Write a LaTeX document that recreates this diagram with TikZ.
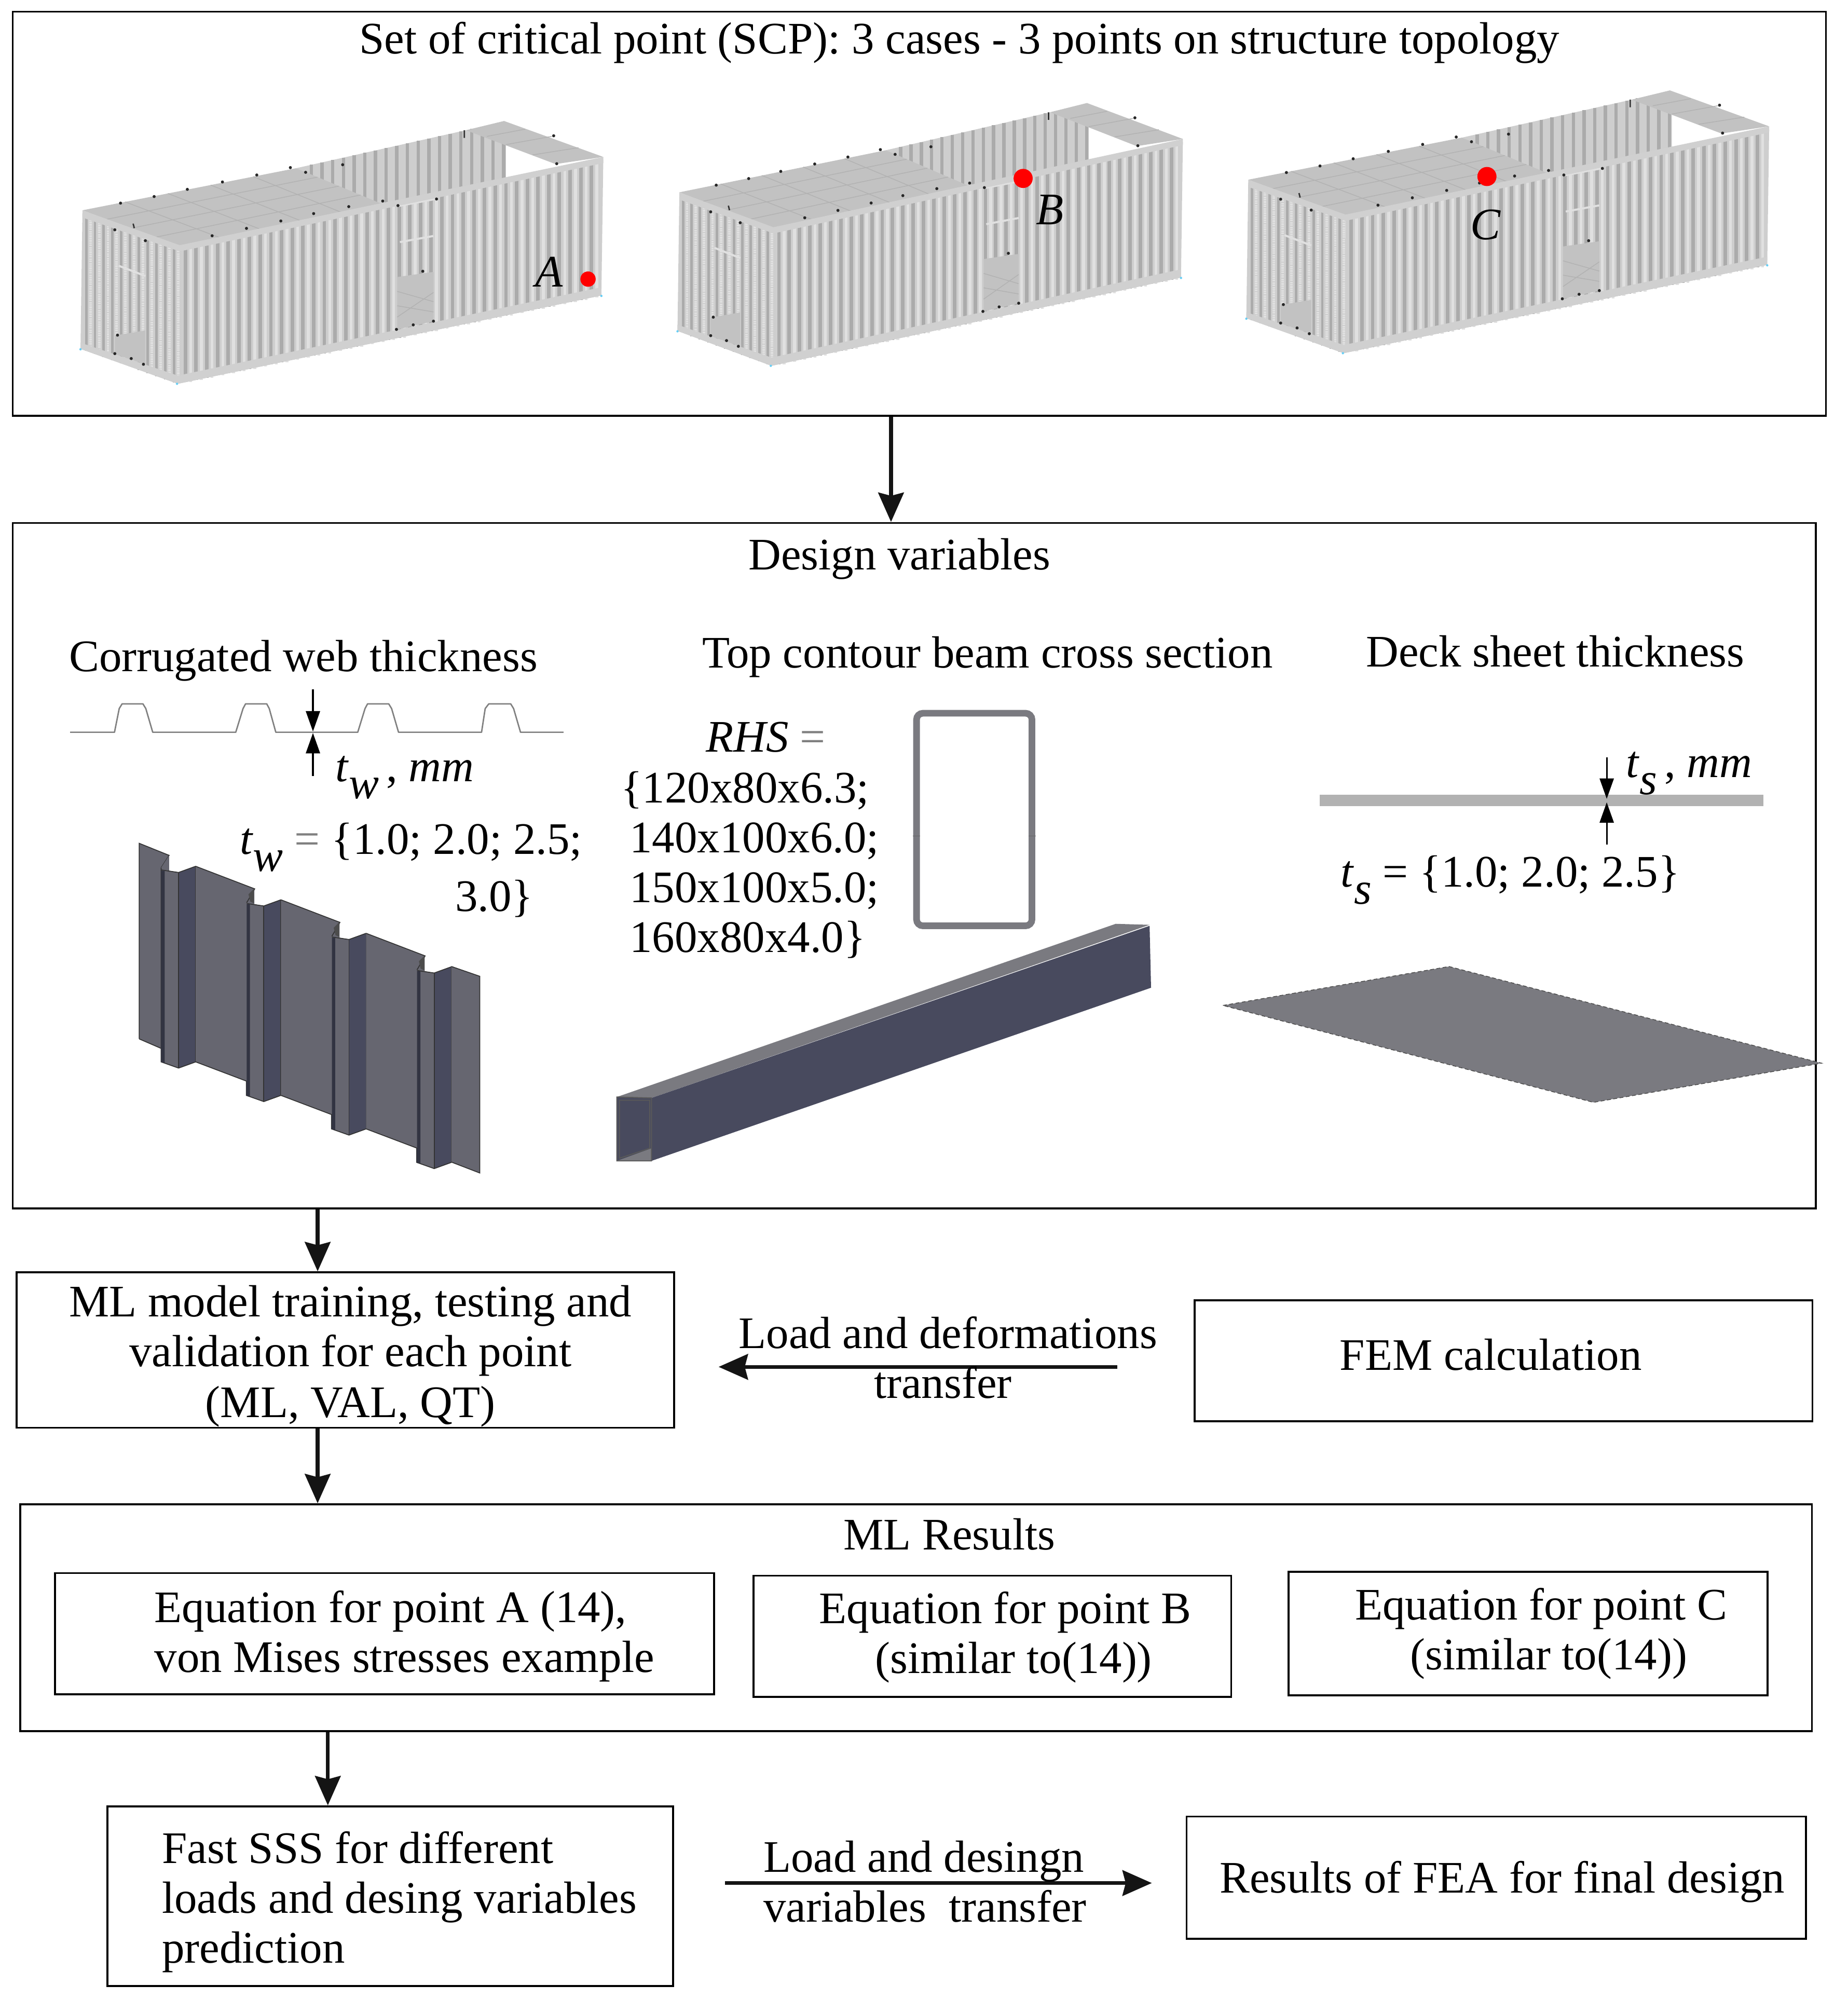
\documentclass[tikz,border=0pt]{standalone}
\usepackage{fontspec}
\setmainfont{Liberation Serif}
\usetikzlibrary{arrows.meta,calc}
\definecolor{ribdark}{HTML}{ABABAB}
\definecolor{ribbase}{HTML}{CECECE}
\definecolor{ribline}{HTML}{E0E0E0}
\definecolor{deckgrey}{HTML}{C2C2C2}
\definecolor{gridgrey}{HTML}{B2B2B2}
\definecolor{beamgrey}{HTML}{D0D0D0}
\definecolor{facegrey}{HTML}{666670}
\definecolor{recess}{HTML}{484A5E}
\definecolor{sheetgrey}{HTML}{7A7A80}
\tikzset{
  box/.style={draw=black,line width=1.5pt,inner sep=0pt,fill=none},
  txt/.style={anchor=base,inner sep=0pt,yshift=-1pt,font=\fontsize{35.4}{39}\selectfont},
  txtl/.style={txt,anchor=base west},
  arr/.style={line width=3pt,draw=black!92,-{Stealth[length=23pt,width=20pt,inset=2.5pt]}},
  dimarr/.style={line width=1.3pt,draw=black,-{Triangle[length=16pt,width=11pt]}},
  rivet/.style={fill=black!85},
  edge3d/.style={draw=black!80,line width=.7pt},
}
\newcommand{\subit}[2]{\textit{#1}\raisebox{-.38em}{\textit{#2}}}
\newcommand{\containerbox}[3]{%
\begin{scope}[shift={(#1,#2)},x=#3pt,y=-.1611pt]
  % back wall
  \fill[ribbase] (640,440)--(1085,255)--(1190,320)--(1190,495)--(865,625)--cycle;
  \foreach \rx in {680,708,...,1190}{
    \pgfmathsetmacro\ta{440-(\rx-640)*.416}
    \pgfmathsetmacro\tb{625-(\rx-865)*.4}
    \draw[ribdark,line width=2.6pt] (\rx,\ta)--(\rx,\tb);
  }
  % right deck
  \fill[deckgrey] (1085,255)--(1185,210)--(1445,385)--(1320,420)--cycle;
  \draw[gridgrey,line width=.6pt] (1140,285)--(1240,250) (1190,325)--(1310,285) (1260,375)--(1380,340);
  % long wall
  \fill[ribbase] (335,830)--(1445,400)--(1440,1060)--(330,1490)--cycle;
  \foreach \rx in {350,378,...,1430}{
    \pgfmathsetmacro\ta{830-(\rx-335)*.387}
    \pgfmathsetmacro\tb{1490-(\rx-330)*.387}
    \draw[ribdark,line width=2.8pt] (\rx,\ta)--(\rx,\tb);
    \draw[ribline,line width=2.2pt] (\rx+14,\ta)--(\rx+14,\tb);
  }
  % end wall
  \fill[ribbase] (80,660)--(335,830)--(330,1490)--(75,1320)--cycle;
  \foreach \rx in {90,113,...,325}{
    \pgfmathsetmacro\ta{660+(\rx-80)*.667}
    \pgfmathsetmacro\tb{1320+(\rx-75)*.667}
    \draw[ribdark,line width=2pt] (\rx,\ta)--(\rx,\tb);
    \draw[ribline,line width=2pt,dash pattern=on 1.3pt off .5pt] (\rx+11,\ta)--(\rx+11,\tb);
  }
  % door openings
  \fill[deckgrey] (905,970)--(1000,945)--(1000,1185)--(905,1225)--cycle;
  \draw[gridgrey,line width=.6pt] (905,1040)--(1000,1090) (905,1110)--(1000,1140) (905,1165)--(1000,1045);
  \fill[deckgrey] (165,1255)--(245,1230)--(245,1395)--(165,1345)--cycle;
  \draw[ribline,line width=1.6pt] (905,625)--(1005,590) (912,800)--(1000,770) (175,915)--(245,965);
  % bottom rail
  \fill[beamgrey] (330,1450)--(1440,1020)--(1440,1060)--(330,1490)--(75,1320)--(75,1290)--cycle;
  % left deck
  \coordinate (P) at (80,645); \coordinate (Q) at (640,440);
  \coordinate (R) at (865,614); \coordinate (S) at (335,820);
  \fill[deckgrey] (P)--(Q)--(R)--(S)--cycle;
  \foreach \t in {.2,.4,.6,.8}{\draw[gridgrey,line width=.6pt] ($(P)!\t!(Q)$)--($(S)!\t!(R)$);}
  \foreach \t in {.25,.5,.75}{\draw[gridgrey,line width=.6pt] ($(P)!\t!(S)$)--($(Q)!\t!(R)$);}
  % top beams
  \fill[beamgrey] (335,815)--(1445,385)--(1445,415)--(335,845)--(80,680)--(80,645)--cycle;
  \foreach \p in {(180,610),(268,578),(355,543),(447,507),(537,473),(625,437),(665,460),(762,423),(867,600),(778,627),(686,661),(600,697),(510,733),(420,769),(165,740),(245,793),(907,622),(1008,590),(1323,418),(1315,282),(972,942),(903,1225),(947,1203),(1000,1185),(172,1253),(165,1343),(208,1367),(240,1395)}{
    \fill[rivet] \p circle[radius=1.2pt];
  }
  \draw[black!80,line width=1.1pt] (213,710)--(216,732) (1081,255)--(1081,292);
  \fill[cyan!60] (75,1322) circle[radius=.9pt] (328,1490) circle[radius=.9pt] (1440,1062) circle[radius=.9pt];
\end{scope}}
\begin{document}
\begin{tikzpicture}[x=1pt,y=-1pt]
\useasboundingbox (0,0) rectangle (1450,1568.5);
\fill[white] (0,0) rectangle (1450,1568.5);

% ---------- containers
\containerbox{40.7}{61.1}{.2995}
\containerbox{510}{47}{.2895}
\containerbox{955.7}{37.1}{.2995}
\fill[red] (461.5,219) circle[radius=6pt];
\fill[red] (803,140) circle[radius=7.5pt];
\fill[red] (1167,138.5) circle[radius=7.5pt];
\node[txt,font=\fontsize{35.4}{39}\selectfont\itshape] (labA) at (431,224) {A};
\node[txt,font=\fontsize{35.4}{39}\selectfont\itshape] (labB) at (824,175) {B};
\node[txt,font=\fontsize{35.4}{39}\selectfont\itshape] (labC) at (1166,187) {C};

% ---------- main boxes
\node[box,minimum width=1423pt,minimum height=317pt] (top) at (721.5,167.7) {};
\node[box,minimum width=1415pt,minimum height=538pt] (design) at (717.5,679.3) {};
\node[box,minimum width=516pt,minimum height=122pt] (ml) at (271,1059.3) {};
\node[box,minimum width=485pt,minimum height=95pt] (fem) at (1180,1067.8) {};
\node[box,minimum width=1406pt,minimum height=178pt] (res) at (719,1269.3) {};
\node[box,minimum width=517pt,minimum height=95pt] (eqa) at (301.8,1281.8) {};
\node[box,minimum width=375pt,minimum height=95pt] (eqb) at (778.8,1283.8) {};
\node[box,minimum width=376pt,minimum height=97pt] (eqc) at (1199.3,1281.8) {};
\node[box,minimum width=444pt,minimum height=141pt] (fast) at (306.3,1487.8) {};
\node[box,minimum width=486pt,minimum height=96pt] (fea) at (1174.3,1473.3) {};

% ---------- connectors
\coordinate (ax1) at (699.3,0);
\coordinate (ax2) at (249.3,0);
\coordinate (ax3) at (257.3,0);
\coordinate (lt1) at (877,1072.5);
\coordinate (lt2) at (564,1072.5);
\coordinate (lt3) at (569,1477.5);
\coordinate (lt4) at (904,1477.5);
\draw[arr] (ax1 |- top.south) -- (ax1 |- design.north);
\draw[arr] (ax2 |- design.south) -- (ax2 |- ml.north);
\draw[arr] (ax2 |- ml.south) -- (ax2 |- res.north);
\draw[arr] (ax3 |- res.south) -- (ax3 |- fast.north);
\draw[arr] (lt1) -- (lt2);
\draw[arr] (lt3) -- (lt4);

% ---------- box texts
\node[txt] (t1) at (753,41) {Set of critical point (SCP): 3 cases - 3 points on structure topology};
\node[txt] (t2) at (706,446) {Design variables};
\node[txtl] (t3) at (54,526) {Corrugated web thickness};
\node[txtl] (t4) at (551,523) {Top contour beam cross section};
\node[txtl] (t5) at (1072,522) {Deck sheet thickness};

\node[txt] (m1) at (275,1032) {ML model training, testing and};
\node[txt] (m2) at (275,1071) {validation for each point};
\node[txt] (m3) at (275,1111) {(ML, VAL, QT)};
\node[txt] (l1) at (744,1057) {Load and deformations};
\node[txt] (l2) at (740,1096) {transfer};
\node[txt] (f1) at (1170,1074) {FEM calculation};
\node[txt] (r0) at (745,1215) {ML Results};
\node[txtl] (a1) at (121,1272) {Equation for point A (14),};
\node[txtl] (a2) at (121,1311) {von Mises stresses example};
\node[txt] (b1) at (789,1273) {Equation for point B};
\node[txt] (b2) at (795.5,1312) {(similar to(14))};
\node[txt] (c1) at (1209.5,1270) {Equation for point C};
\node[txt] (c2) at (1215.5,1309) {(similar to(14))};
\node[txtl] (s1) at (127,1461) {Fast SSS for different};
\node[txtl] (s2) at (127,1500) {loads and desing variables};
\node[txtl] (s3) at (127,1539) {prediction};
\node[txt] (n1) at (725,1468) {Load and desingn};
\node[txt] (n2) at (726,1507) {variables\ \ transfer};
\node[txt] (e1) at (1179,1484) {Results of FEA for final design};

% ---------- corrugated web
\begin{scope}[shift={(40.7,488.8)},x=.2858pt,y=-.2858pt]
  \draw[gray,line width=1.1pt,line join=round] (50,300)--(172,300)--(185,235)--(193,222)--(250,222)--(258,235)--(277,300)
    --(505,300)--(525,235)--(532,222)--(590,222)--(597,235)--(615,300)
    --(840,300)--(860,235)--(867,222)--(925,222)--(933,235)--(952,300)
    --(1180,300)--(1190,235)--(1200,222)--(1260,222)--(1268,235)--(1287,300)--(1405,300);
  \coordinate (twa) at (717,182); \coordinate (twb) at (717,298);
  \coordinate (twc) at (717,420); \coordinate (twd) at (717,302);
  \draw[dimarr] (twa)--(twb);
  \draw[dimarr] (twc)--(twd);
  % sheet
  \fill[facegrey] (240,605)--(322,638)--(300,672)--(300,1168)--(240,1142)--cycle;
  \draw[edge3d] (240,1142)--(240,605)--(322,638)--(300,672);
  \draw[edge3d] (240,1142)--(300,1168);
  \foreach \sx/\sy in {0/0,234/92,468/184,702/276}{
    \begin{scope}[shift={(\sx,\sy)}]
      \fill[facegrey] (300,672)--(322,638)--(322,680)--(348,685)--(348,1222)--(300,1205)--cycle;
      \fill[recess] (348,685)--(395,668)--(395,1205)--(348,1222)--cycle;
      \draw[edge3d] (300,672)--(300,1205)--(348,1222)--(395,1205);
      \draw[edge3d] (300,678)--(348,685)--(395,668);
      \draw[edge3d] (348,685)--(348,1222) (395,668)--(395,1205);
      \fill[recess!70!black] (300,680)--(310,680)--(310,1208)--(300,1205)--cycle;
    \end{scope}
  }
  \foreach \sx/\sy in {0/0,234/92,468/184}{
    \begin{scope}[shift={(\sx,\sy)}]
      \fill[facegrey] (395,668)--(555,730)--(535,765)--(535,1258)--(395,1205)--cycle;
      \draw[edge3d] (395,668)--(557,730)--(535,768) (395,1205)--(535,1258);
      \fill[black!70] (540,745)--(555,730)--(555,770)--(545,765)--cycle;
    \end{scope}
  }
  \fill[facegrey] (1097,943)--(1175,970)--(1175,1510)--(1097,1480)--cycle;
  \draw[edge3d] (1097,943)--(1175,970)--(1175,1510)--(1097,1480);
\end{scope}
\node[txtl] (tw1) at (263,612) {\subit{t}{w}\hspace{-3pt} , \textit{mm}};
\node[txtl] (tw2) at (188,669) {\subit{t}{w} \textcolor{gray}{=} \{1.0; 2.0; 2.5;};
\node[txtl] (tw3) at (357,714) {3.0\}};

% ---------- beam
\node[txtl] (rh0) at (554,589) {\textit{RHS} \textcolor{gray}{=}};
\node[txtl] (rh1) at (487,629) {\{120x80x6.3;};
\node[txtl] (rh2) at (494,668) {140x100x6.0;};
\node[txtl] (rh3) at (494,707) {150x100x5.0;};
\node[txtl] (rh4) at (494,746) {160x80x4.0\}};
\begin{scope}[shift={(468.4,529.5)},x=.2858pt,y=-.2598pt]
  \draw[sheetgrey,line width=5.2pt,rounded corners=5pt] (878,116) rectangle (1195,758);
  \draw[black!60,line width=.6pt] (868,487)--(888,487) (1185,487)--(1205,487);
  \fill[sheetgrey] (55,1275)--(1425,752)--(1518,755)--(150,1278)--cycle;
  \fill[recess] (150,1278)--(1518,758)--(1522,945)--(150,1468)--cycle;
  \fill[recess] (55,1275)--(150,1278)--(150,1468)--(55,1468)--cycle;
  \fill[sheetgrey] (55,1468)--(150,1430)--(150,1468)--cycle;
  \draw[black!65,line width=.8pt] (55,1275)--(150,1278)--(150,1468)--(55,1468)--cycle (62,1285)--(62,1460)--(145,1430)--(145,1285)--cycle;
\end{scope}

% ---------- deck sheet
\begin{scope}[shift={(936.9,570.3)},x=.3274pt,y=-.2078pt]
  \fill[black!30] (302,257) rectangle (1365,299);
  \coordinate (tsa) at (990,115); \coordinate (tsb) at (990,272);
  \coordinate (tsc) at (990,445); \coordinate (tsd) at (990,285);
  \draw[dimarr] (tsa)--(tsb);
  \draw[dimarr] (tsc)--(tsd);
  \filldraw[fill=sheetgrey,draw=black!70,line width=.6pt,densely dashed] (70,1052)--(612,905)--(1505,1270)--(958,1418)--cycle;
\end{scope}
\node[txtl] (ts1) at (1276,609) {\subit{t}{s}\hspace{-3pt} , \textit{mm}};
\node[txtl] (ts2) at (1052,695) {\subit{t}{s} = \{1.0; 2.0; 2.5\}};
\end{tikzpicture}
\end{document}
